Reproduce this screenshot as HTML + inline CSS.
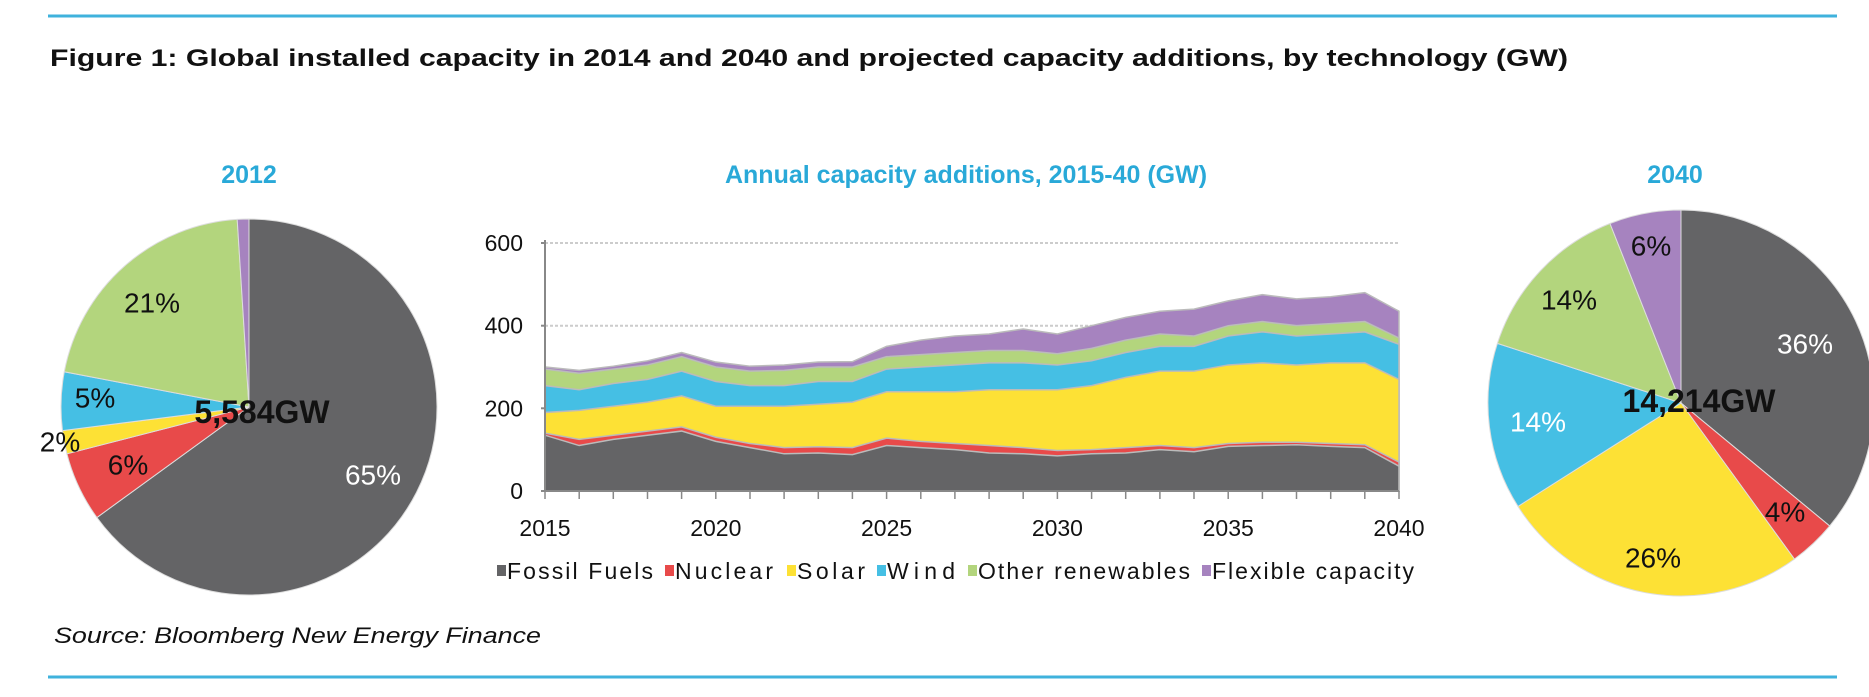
<!DOCTYPE html>
<html><head><meta charset="utf-8"><style>
html,body{margin:0;padding:0;background:#fff;}
svg{display:block;font-family:"Liberation Sans",Arial,sans-serif;}
</style></head><body>
<svg width="1869" height="697" viewBox="0 0 1869 697" xmlns="http://www.w3.org/2000/svg">
<line x1="48" y1="16" x2="1837" y2="16" stroke="#3fb2dc" stroke-width="3"/>
<line x1="48" y1="677" x2="1837" y2="677" stroke="#3fb2dc" stroke-width="3"/>
<text x="50" y="66" font-size="24" font-weight="bold" fill="#111" textLength="1518" lengthAdjust="spacingAndGlyphs">Figure 1: Global installed capacity in 2014 and 2040 and projected capacity additions, by technology (GW)</text>
<text x="249" y="183" font-size="25" font-weight="bold" fill="#29a9d8" text-anchor="middle">2012</text>
<text x="966" y="183" font-size="25" font-weight="bold" fill="#29a9d8" text-anchor="middle">Annual capacity additions, 2015-40 (GW)</text>
<text x="1675" y="183" font-size="25" font-weight="bold" fill="#29a9d8" text-anchor="middle">2040</text>

<!-- left pie -->
<g stroke="#ddd" stroke-width="1">
<path d="M249,407 L249,219 A188,188 0 1 1 96.9,517.5 Z" fill="#646466"/>
<path d="M249,407 L96.9,517.5 A188,188 0 0 1 66.9,453.8 Z" fill="#e84a4a"/>
<path d="M249,407 L66.9,453.8 A188,188 0 0 1 62.5,430.6 Z" fill="#fde135"/>
<path d="M249,407 L62.5,430.6 A188,188 0 0 1 64.3,371.8 Z" fill="#45bfe4"/>
<path d="M249,407 L64.3,371.8 A188,188 0 0 1 237.2,219.4 Z" fill="#b3d57d"/>
<path d="M249,407 L237.2,219.4 A188,188 0 0 1 249,219 Z" fill="#a683bf"/>
</g>
<g font-size="28" text-anchor="middle" dominant-baseline="central" fill="#111">
<text x="152" y="303">21%</text>
<text x="95" y="398">5%</text>
<text x="60" y="442">2%</text>
<text x="128" y="465">6%</text>
<text x="373" y="475" fill="#fff">65%</text>
<text x="262" y="412" font-size="32" font-weight="bold">5,584GW</text>
</g>

<!-- right pie -->
<g stroke="#ddd" stroke-width="1">
<path d="M1681,403 L1681,210 A193,193 0 0 1 1829.7,526 Z" fill="#646466"/>
<path d="M1681,403 L1829.7,526 A193,193 0 0 1 1794.4,559.1 Z" fill="#e84a4a"/>
<path d="M1681,403 L1794.4,559.1 A193,193 0 0 1 1518,506.4 Z" fill="#fde135"/>
<path d="M1681,403 L1518,506.4 A193,193 0 0 1 1497.4,343.4 Z" fill="#45bfe4"/>
<path d="M1681,403 L1497.4,343.4 A193,193 0 0 1 1610,223.5 Z" fill="#b3d57d"/>
<path d="M1681,403 L1610,223.5 A193,193 0 0 1 1681,210 Z" fill="#a683bf"/>
</g>
<g font-size="28" text-anchor="middle" dominant-baseline="central" fill="#111">
<text x="1651" y="246">6%</text>
<text x="1569" y="300">14%</text>
<text x="1805" y="344" fill="#fff">36%</text>
<text x="1538" y="422" fill="#fff">14%</text>
<text x="1785" y="512">4%</text>
<text x="1653" y="558">26%</text>
<text x="1699" y="401" font-size="32" font-weight="bold">14,214GW</text>
</g>

<!-- area chart -->
<g stroke="#ccc" stroke-width="2" stroke-dasharray="3,2">
<line x1="545" y1="243" x2="1399" y2="243"/>
<line x1="545" y1="325.7" x2="1399" y2="325.7"/>
</g>
<g transform="translate(545,491) scale(34.16,-0.4133)" stroke="#bbb" stroke-width="1.5">
<path vector-effect="non-scaling-stroke" fill="#a683bf" d="M0,0 L0,300 1,292 2,302 3,315 4,335 5,312 6,302 7,305 8,312 9,313 10,350 11,365 12,375 13,380 14,392 15,380 16,400 17,420 18,435 19,440 20,460 21,475 22,465 23,470 24,480 25,435 L25,0 Z"/>
<path vector-effect="non-scaling-stroke" fill="#b3d57d" d="M0,0 L0,295 1,285 2,295 3,305 4,325 5,300 6,290 7,292 8,300 9,300 10,325 11,330 12,335 13,340 14,340 15,332 16,345 17,365 18,380 19,375 20,400 21,410 22,400 23,405 24,410 25,370 L25,0 Z"/>
<path vector-effect="non-scaling-stroke" fill="#45bfe4" d="M0,0 L0,255 1,245 2,260 3,270 4,290 5,265 6,255 7,255 8,265 9,265 10,295 11,300 12,305 13,310 14,310 15,305 16,315 17,335 18,350 19,350 20,375 21,385 22,375 23,380 24,385 25,355 L25,0 Z"/>
<path vector-effect="non-scaling-stroke" fill="#fde135" d="M0,0 L0,190 1,195 2,205 3,215 4,230 5,205 6,205 7,205 8,210 9,215 10,240 11,240 12,240 13,245 14,245 15,245 16,255 17,275 18,290 19,290 20,305 21,310 22,305 23,310 24,310 25,270 L25,0 Z"/>
<path vector-effect="non-scaling-stroke" fill="#e84a4a" d="M0,0 L0,140 1,125 2,135 3,145 4,155 5,130 6,115 7,105 8,107 9,105 10,128 11,120 12,115 13,110 14,105 15,98 16,100 17,105 18,110 19,105 20,115 21,118 22,118 23,115 24,112 25,70 L25,0 Z"/>
<path vector-effect="non-scaling-stroke" fill="#646466" d="M0,0 L0,135 1,110 2,125 3,135 4,145 5,120 6,105 7,90 8,92 9,88 10,110 11,105 12,100 13,92 14,90 15,85 16,90 17,92 18,100 19,95 20,108 21,110 22,112 23,108 24,105 25,60 L25,0 Z"/>
</g>
<g stroke="#888" stroke-width="2">
<line x1="545" y1="240" x2="545" y2="491"/>
<line x1="541" y1="491" x2="1399" y2="491"/>
<line x1="541" y1="243" x2="545" y2="243"/>
<line x1="541" y1="325.7" x2="545" y2="325.7"/>
<line x1="541" y1="408.3" x2="545" y2="408.3"/>
</g>
<g stroke="#888" stroke-width="1.5">
<path d="M545,491v8M579.2,491v8M613.3,491v8M647.5,491v8M681.6,491v8M715.8,491v8M750,491v8M784.1,491v8M818.3,491v8M852.4,491v8M886.6,491v8M920.8,491v8M954.9,491v8M989.1,491v8M1023.2,491v8M1057.4,491v8M1091.6,491v8M1125.7,491v8M1159.9,491v8M1194,491v8M1228.2,491v8M1262.4,491v8M1296.5,491v8M1330.7,491v8M1364.8,491v8M1399,491v8"/>
</g>
<g font-size="23" fill="#111" text-anchor="end" dominant-baseline="central">
<text x="523" y="243">600</text>
<text x="523" y="325.7">400</text>
<text x="523" y="408.3">200</text>
<text x="523" y="491">0</text>
</g>
<g font-size="23" fill="#111" text-anchor="middle">
<text x="545" y="536">2015</text>
<text x="715.8" y="536">2020</text>
<text x="886.6" y="536">2025</text>
<text x="1057.4" y="536">2030</text>
<text x="1228.2" y="536">2035</text>
<text x="1399" y="536">2040</text>
</g>
<g font-size="23" fill="#111" lengthAdjust="spacingAndGlyphs">
<rect x="497" y="565" width="9" height="11" fill="#646466"/><text x="507" y="579" textLength="146">Fossil Fuels</text>
<rect x="665" y="565" width="9" height="11" fill="#e84a4a"/><text x="675" y="579" textLength="98">Nuclear</text>
<rect x="787" y="565" width="9" height="11" fill="#fde135"/><text x="797" y="579" textLength="68">Solar</text>
<rect x="877" y="565" width="9" height="11" fill="#45bfe4"/><text x="887" y="579" textLength="68">Wind</text>
<rect x="968" y="565" width="9" height="11" fill="#b3d57d"/><text x="978" y="579" textLength="212">Other renewables</text>
<rect x="1202" y="565" width="9" height="11" fill="#a683bf"/><text x="1212" y="579" textLength="202">Flexible capacity</text>
</g>
<text x="54" y="643" font-size="22" font-style="italic" fill="#111" textLength="487" lengthAdjust="spacingAndGlyphs">Source: Bloomberg New Energy Finance</text>
</svg>
</body></html>
